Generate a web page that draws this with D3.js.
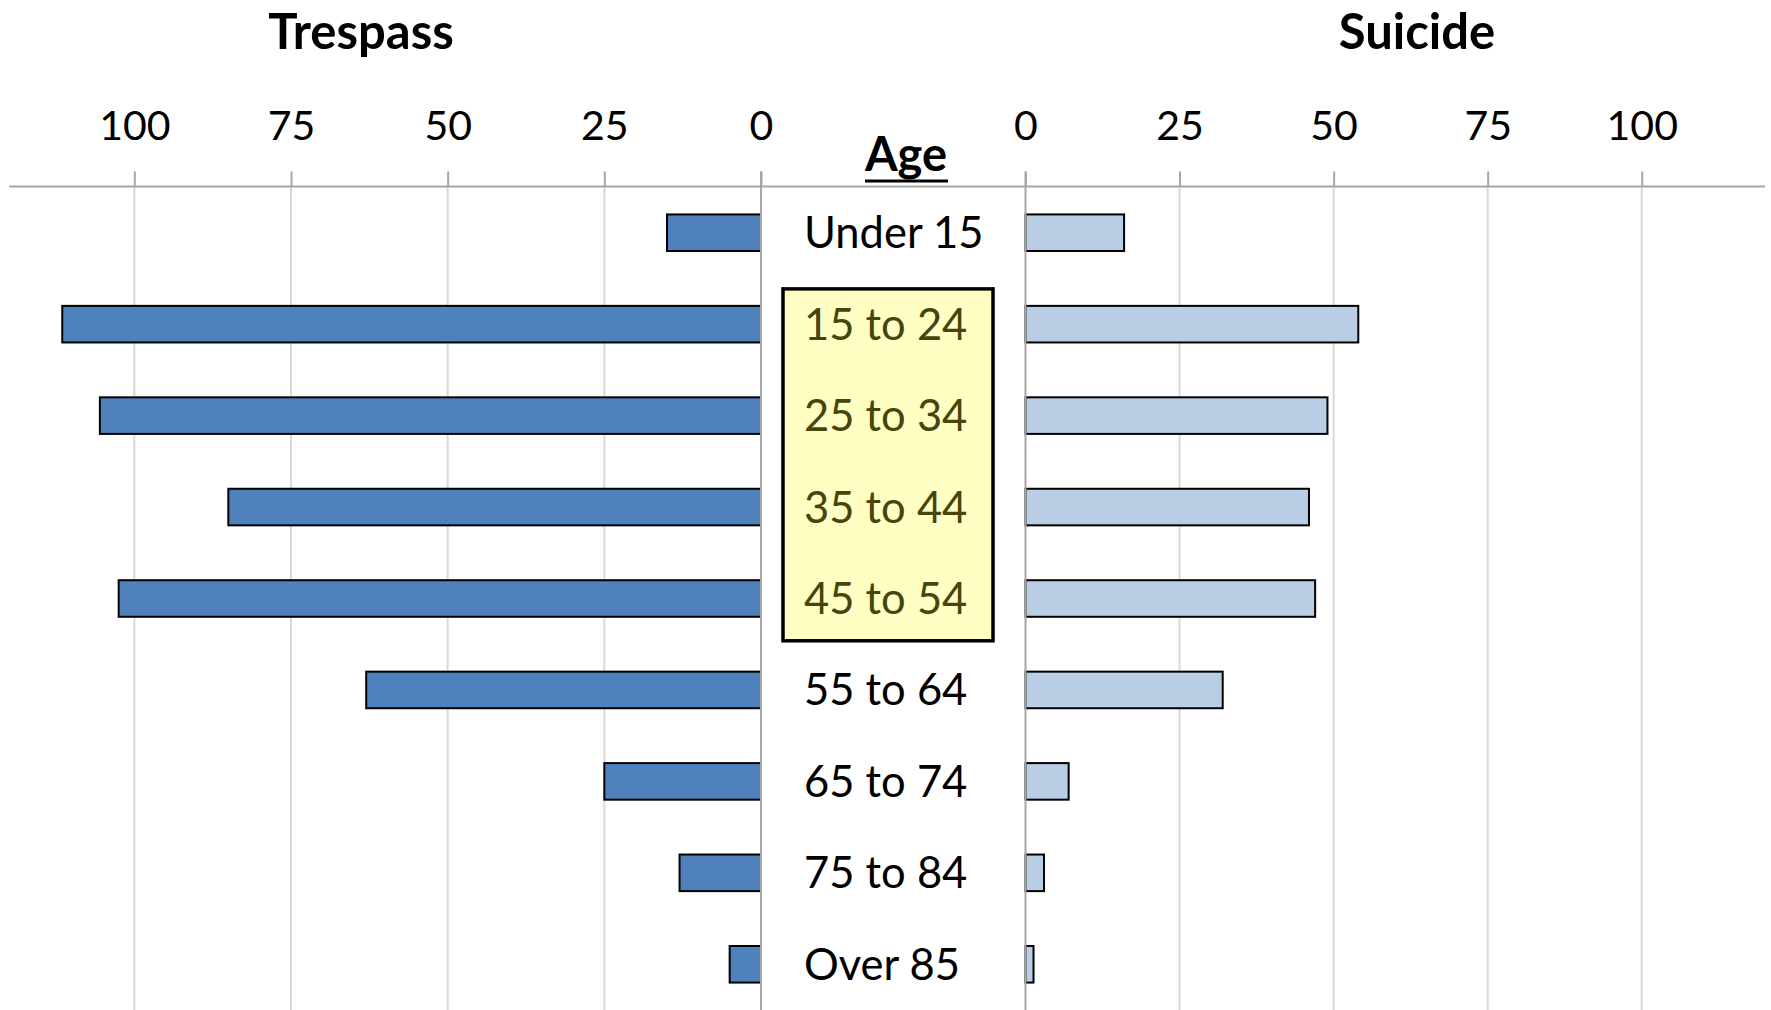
<!DOCTYPE html>
<html>
<head>
<meta charset="utf-8">
<script src="https://cdn.jsdelivr.net/npm/d3@7"></script>
<style>
  body { margin: 0; background: #fff; }
  svg { display: block; font-family: Lato, "Open Sans", sans-serif; }
</style>
</head>
<body>
<svg id="chart"></svg>
<script>
// data
const ages = ["Under 15", "15 to 24", "25 to 34", "35 to 44", "45 to 54", "55 to 64", "65 to 74", "75 to 84", "Over 85"];
const trespass = [15, 111.5, 105.5, 85, 102.5, 63, 25, 13, 5];
const suicide = [16, 54, 49, 46, 47, 32, 7, 3, 1.3];
const tickValues = [0, 25, 50, 75, 100];
const highlighted = ["15 to 24", "25 to 34", "35 to 44", "45 to 54"];

const W = 1771, H = 1010;
const axisY = 186.5;

const svg = d3.select("#chart")
  .attr("width", W)
  .attr("height", H);

// two mirrored x scales sharing the band y scale
const xLeft = d3.scaleLinear().domain([0, 120]).range([761, 9]);
const xRight = d3.scaleLinear().domain([0, 120]).range([1025.5, 1765]);
const y = d3.scaleBand().domain(ages).range([187, 1010]).paddingInner(0.6).paddingOuter(0.3);

const rows = ages.map((a, i) => ({age: a, t: trespass[i], s: suicide[i]}));

// gridlines
[xLeft, xRight].forEach(sc => {
  svg.append("g").selectAll("line")
    .data(tickValues.filter(d => d > 0))
    .join("line")
      .attr("x1", d => sc(d)).attr("x2", d => sc(d))
      .attr("y1", axisY).attr("y2", H)
      .attr("stroke", "#d9d9d9")
      .attr("stroke-width", 2);
});

// axis line across the whole width
svg.append("line")
  .attr("x1", xLeft(120)).attr("x2", xRight(120))
  .attr("y1", axisY).attr("y2", axisY)
  .attr("stroke", "#a6a6a6")
  .attr("stroke-width", 2);

// axes with ticks and labels on top
function drawAxis(sc) {
  const g = svg.append("g")
    .attr("transform", `translate(0,${axisY})`)
    .call(d3.axisTop(sc).tickValues(tickValues).tickSize(15).tickPadding(32));
  g.select(".domain").remove();
  g.selectAll(".tick line").attr("stroke", "#a6a6a6").attr("stroke-width", 2);
  g.selectAll(".tick text")
    .attr("fill", "#000")
    .style("font-family", "Lato, sans-serif")
    .style("font-size", "41px");
}
drawAxis(xLeft);
drawAxis(xRight);

// bars
svg.append("g").selectAll("rect")
  .data(rows)
  .join("rect")
    .attr("x", d => xLeft(d.t))
    .attr("y", d => y(d.age))
    .attr("width", d => xLeft(0) - xLeft(d.t))
    .attr("height", y.bandwidth())
    .attr("fill", "#4f81bd")
    .attr("stroke", "#000")
    .attr("stroke-width", 2);

svg.append("g").selectAll("rect")
  .data(rows)
  .join("rect")
    .attr("x", xRight(0))
    .attr("y", d => y(d.age))
    .attr("width", d => xRight(d.s) - xRight(0))
    .attr("height", y.bandwidth())
    .attr("fill", "#b9cde5")
    .attr("stroke", "#000")
    .attr("stroke-width", 2);

// zero lines
[xLeft, xRight].forEach(sc => {
  svg.append("line")
    .attr("x1", sc(0)).attr("x2", sc(0))
    .attr("y1", axisY - 15).attr("y2", H)
    .attr("stroke", "#a6a6a6")
    .attr("stroke-width", 2);
});

// highlight box for working ages
const first = highlighted[0], last = highlighted[highlighted.length - 1];
svg.append("rect")
  .attr("x", 783)
  .attr("y", y(first) - 17)
  .attr("width", 210)
  .attr("height", y(last) + y.bandwidth() + 24 - (y(first) - 17))
  .attr("fill", "#ffffc3")
  .attr("stroke", "#000")
  .attr("stroke-width", 3.5);

// category labels
svg.append("g").selectAll("text")
  .data(ages)
  .join("text")
    .attr("x", 804)
    .attr("y", d => y(d) + y.bandwidth() / 2 + 15.5)
    .attr("fill", d => highlighted.includes(d) ? "#45450c" : "#000")
    .style("font-size", "43.5px")
    .text(d => d);

// titles
svg.append("text")
  .attr("x", 361).attr("y", 49)
  .attr("text-anchor", "middle")
  .style("font-size", "49px").style("font-weight", "bold")
  .text("Trespass");

svg.append("text")
  .attr("x", 1417).attr("y", 49)
  .attr("text-anchor", "middle")
  .style("font-size", "49px").style("font-weight", "bold")
  .text("Suicide");

svg.append("text")
  .attr("x", 906).attr("y", 171)
  .attr("text-anchor", "middle")
  .style("font-size", "47px").style("font-weight", "bold")
  .text("Age");

svg.append("line")
  .attr("x1", 865).attr("x2", 948)
  .attr("y1", 181).attr("y2", 181)
  .attr("stroke", "#000")
  .attr("stroke-width", 3);
</script>
</body>
</html>
